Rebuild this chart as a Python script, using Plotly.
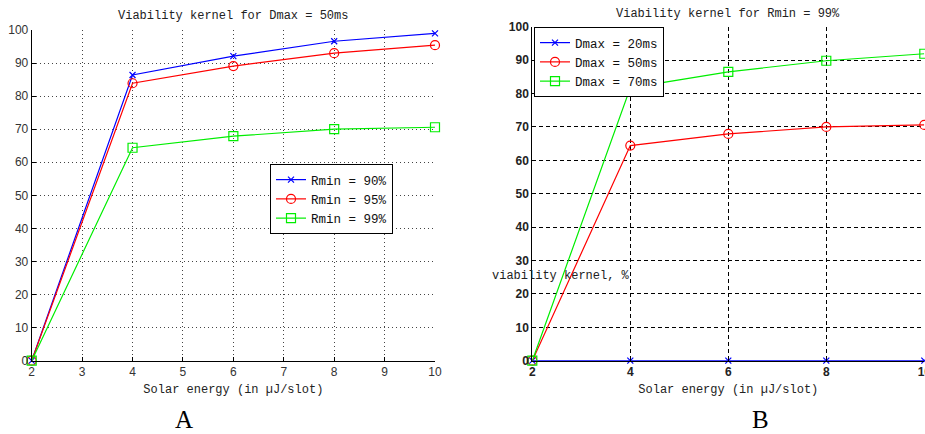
import plotly.graph_objects as go

# ---- data ----
solar_a = [2, 4, 6, 8, 10]
rmin90 = [0, 86.4, 92.1, 96.6, 99.0]
rmin95 = [0, 83.9, 89.1, 93.0, 95.4]
rmin99 = [0, 64.4, 67.9, 70.0, 70.6]

solar_b = [2, 4, 6, 8, 10]
dmax20 = [0, 0, 0, 0, 0]
dmax50 = [0, 64.4, 67.9, 70.0, 70.6]
dmax70 = [0, 81.7, 86.5, 89.8, 91.9]

names_a = ["Rmin = 90%", "Rmin = 95%", "Rmin = 99%"]
names_b = ["Dmax = 20ms", "Dmax = 50ms", "Dmax = 70ms"]
colors = ["#0000ff", "#ff0000", "#00ee00"]
symbols = ["x-thin", "circle-open", "square-open"]
sizes = [6, 9, 9]

W, H = 925, 434
MONO = "Liberation Mono, Courier New, monospace"
SANS = "Liberation Sans, Arial, sans-serif"

fig = go.Figure()

for ys, nm, c, s, sz in zip([rmin90, rmin95, rmin99], names_a, colors, symbols, sizes):
    fig.add_trace(go.Scatter(
        x=solar_a, y=ys, name=nm, mode="lines+markers",
        line=dict(color=c, width=1.2),
        marker=dict(symbol=s, size=sz, color=c, line=dict(color=c, width=1.2)),
        xaxis="x", yaxis="y", legend="legend", cliponaxis=False))

for ys, nm, c, s, sz in zip([dmax20, dmax50, dmax70], names_b, colors, symbols, sizes):
    fig.add_trace(go.Scatter(
        x=solar_b, y=ys, name=nm, mode="lines+markers",
        line=dict(color=c, width=1.2),
        marker=dict(symbol=s, size=sz, color=c, line=dict(color=c, width=1.2)),
        xaxis="x2", yaxis="y2", legend="legend2", cliponaxis=False))

def px_x(p):
    return p / W

def px_y(p):
    return 1 - p / H

axA = dict(showline=True, linecolor="black", linewidth=1, mirror=False,
           showgrid=True, gridcolor="#444444", gridwidth=1, griddash="1px,3px",
           zeroline=False, ticks="inside", ticklen=4, tickcolor="black",
           automargin=False, ticklabeloverflow="allow",
           tickfont=dict(family=SANS, size=12, color="#333333"))
axB = dict(showline=True, linecolor="black", linewidth=1, mirror=False,
           showgrid=True, gridcolor="#000000", gridwidth=1, griddash="4px,3px",
           zeroline=False, ticks="inside", ticklen=4, tickcolor="black",
           automargin=False, ticklabeloverflow="allow",
           tickfont=dict(family=SANS, size=12, color="#222222", weight="bold"))

def note(text, x, y, font):
    return dict(text=text, x=px_x(x), y=px_y(y), xref="paper", yref="paper",
                xanchor="center", yanchor="middle", showarrow=False, font=font)

mono12 = dict(family=MONO, size=12, color="#222222")
serif = dict(family="Liberation Serif, Times New Roman, serif", size=25, color="black")

fig.update_layout(
    template="none",
    width=W, height=H,
    margin=dict(l=0, r=0, t=0, b=0, pad=0, autoexpand=False),
    paper_bgcolor="white", plot_bgcolor="white",
    xaxis=dict(axA, domain=[px_x(31.7), px_x(435)], range=[2, 10], dtick=1,
               anchor="y",
               title=dict(text="Solar energy (in µJ/slot)", standoff=6, font=mono12)),
    yaxis=dict(axA, domain=[px_y(360.7), px_y(30)], range=[0, 100], dtick=10,
               anchor="x"),
    xaxis2=dict(axB, domain=[px_x(532.3), px_x(924.3)], range=[2, 10], dtick=2,
                anchor="y2",
                title=dict(text="Solar energy (in µJ/slot)", standoff=6, font=mono12)),
    yaxis2=dict(axB, domain=[px_y(360.7), px_y(26.7)], range=[0, 100], dtick=10,
                anchor="x2"),
    legend=dict(x=px_x(270), y=px_y(164), xanchor="left", yanchor="top",
                bgcolor="white", bordercolor="black", borderwidth=1,
                font=dict(family=MONO, size=12.5, color="#111111"),
                tracegroupgap=0, itemwidth=30),
    legend2=dict(x=px_x(534), y=px_y(27), xanchor="left", yanchor="top",
                 bgcolor="white", bordercolor="black", borderwidth=1,
                 font=dict(family=MONO, size=12.5, color="#111111"),
                 tracegroupgap=0, itemwidth=30),
    showlegend=True,
    annotations=[
        note("Viability kernel for Dmax = 50ms", 233, 16, mono12),
        note("Viability kernel for Rmin = 99%", 728, 14, mono12),
        note("viability kernel, %", 561, 276, mono12),
        note("A", 183.5, 419, serif),
        note("B", 760, 419, serif),
    ],
)

fig.write_html("out.html", config={"displayModeBar": False},
               post_script="document.body.style.margin='0';")
